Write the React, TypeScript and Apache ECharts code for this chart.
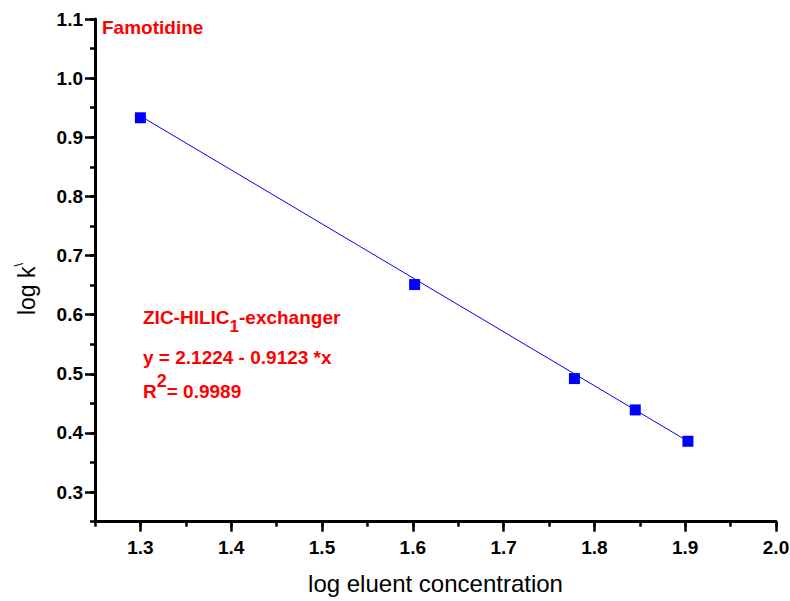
import React, { useEffect, useRef } from "react";
import * as echarts from "echarts";

// Data
const logConc = [1.3, 1.602, 1.778, 1.845, 1.903];
const logK = [0.933, 0.651, 0.492, 0.439, 0.386];
const fitX = [1.3, 1.903];
const fitY = [0.936, 0.386];

const titleText = "Famotidine";
const eqLine1 = ["ZIC-HILIC", "1", "-exchanger"];
const eqLine2 = "y = 2.1224 - 0.9123 *x";
const eqLine3 = ["R", "2", "= 0.9989"];
const xName = "log eluent concentration";
const yName = ["log k", "\\"];

const FONT = "'Liberation Sans', Arial, Helvetica, sans-serif";

export default function App() {
  const ref = useRef<HTMLDivElement>(null);
  useEffect(() => {
    document.body.style.margin = "0";
    if (!ref.current) return;
    const chart = echarts.init(ref.current, null, { renderer: "svg" });

    const gLeft = 95, gRight = 14, gTop = 19, gBottom = 79.3;
    const xUnit = (790 - gLeft - gRight) / 0.75;
    const yUnit = (601 - gTop - gBottom) / 0.85;
    const dx = 0.05 * xUnit;
    const dy = 0.05 * yUnit;

    const labelStyle = {
      color: "#000",
      fontSize: 19,
      fontWeight: "bold" as const,
      fontFamily: FONT,
    };
    const axisLineStyle = { color: "#000000", width: 3, opacity: 1 };
    const tickStyle = { color: "#000000", width: 2.5, opacity: 1 };

    const option: any = {
      animation: false,
      backgroundColor: "#fff",
      grid: [
        { left: gLeft, right: gRight, top: gTop, bottom: gBottom, containLabel: false, outerBoundsMode: "none" },
        { left: gLeft + dx, right: gRight, top: gTop, bottom: gBottom + dy, containLabel: false, outerBoundsMode: "none" },
      ],
      xAxis: [
        {
          gridIndex: 0,
          type: "value",
          min: 1.25,
          max: 2.0,
          interval: 0.05,
          axisLine: { show: true, onZero: false, lineStyle: axisLineStyle },
          axisTick: { show: true, length: 5, lineStyle: tickStyle },
          axisLabel: { show: false },
          splitLine: { show: false },
          name: xName,
          nameLocation: "middle",
          nameGap: 50,
          nameTextStyle: { color: "#000", fontSize: 24, fontFamily: FONT },
        },
        {
          gridIndex: 1,
          type: "value",
          min: 1.3,
          max: 2.0,
          interval: 0.1,
          position: "bottom",
          offset: dy,
          axisLine: { show: false, onZero: false },
          axisTick: { show: true, length: 10, lineStyle: tickStyle },
          axisLabel: { ...labelStyle, margin: 16, formatter: (v: number) => v.toFixed(1) },
          splitLine: { show: false },
        },
      ],
      yAxis: [
        {
          gridIndex: 0,
          type: "value",
          min: 0.25,
          max: 1.1,
          interval: 0.05,
          axisLine: { show: true, onZero: false, lineStyle: axisLineStyle },
          axisTick: { show: true, length: 5, lineStyle: tickStyle },
          axisLabel: { show: false },
          splitLine: { show: false },
        },
        {
          gridIndex: 1,
          type: "value",
          min: 0.3,
          max: 1.1,
          interval: 0.1,
          position: "left",
          offset: dx,
          axisLine: { show: false, onZero: false },
          axisTick: { show: true, length: 10, lineStyle: tickStyle },
          axisLabel: { ...labelStyle, margin: 12, formatter: (v: number) => v.toFixed(1) },
          splitLine: { show: false },
        },
      ],
      series: [
        {
          type: "line",
          xAxisIndex: 0,
          yAxisIndex: 0,
          data: fitX.map((x, i) => [x, fitY[i]]),
          symbol: "none",
          lineStyle: { color: "#0000ff", width: 1 },
          z: 2,
        },
        {
          type: "scatter",
          xAxisIndex: 0,
          yAxisIndex: 0,
          data: logConc.map((x, i) => [x, logK[i]]),
          symbol: "rect",
          symbolSize: 11,
          itemStyle: { color: "#0000ff", opacity: 1 },
          z: 3,
        },
      ],
      graphic: [
        {
          type: "text",
          x: 102,
          y: 27,
          style: {
            text: titleText,
            fill: "#ff0000",
            fontSize: 19,
            fontWeight: "bold",
            fontFamily: FONT,
            verticalAlign: "middle",
            align: "left",
          },
        },
        {
          type: "text",
          x: 143,
          y: 317 - 18,
          style: {
            text: `{a|${eqLine1[0]}}{s|${eqLine1[1]}}{a|${eqLine1[2]}}`,
            fill: "#ff0000",
            fontFamily: FONT,
            fontWeight: "bold",
            align: "left",
            verticalAlign: "top",
            rich: {
              a: { fill: "#ff0000", fontSize: 19, fontWeight: "bold", fontFamily: FONT, lineHeight: 36, verticalAlign: "middle" },
              s: { fill: "#ff0000", fontSize: 17, fontWeight: "bold", fontFamily: FONT, lineHeight: 15, verticalAlign: "bottom" },
            },
          },
        },
        {
          type: "text",
          x: 143,
          y: 357.5,
          style: {
            text: eqLine2,
            fill: "#ff0000",
            fontSize: 19,
            fontWeight: "bold",
            fontFamily: FONT,
            verticalAlign: "middle",
            align: "left",
          },
        },
        {
          type: "text",
          x: 143,
          y: 391.5 - 20,
          style: {
            text: `{a|${eqLine3[0]}}{s|${eqLine3[1]}}{a|${eqLine3[2]}}`,
            fill: "#ff0000",
            fontFamily: FONT,
            fontWeight: "bold",
            align: "left",
            verticalAlign: "top",
            rich: {
              a: { fill: "#ff0000", fontSize: 19, fontWeight: "bold", fontFamily: FONT, lineHeight: 40, verticalAlign: "middle" },
              s: { fill: "#ff0000", fontSize: 18, fontWeight: "bold", fontFamily: FONT, lineHeight: 17, verticalAlign: "top" },
            },
          },
        },
        {
          type: "text",
          x: 27,
          y: 289,
          rotation: Math.PI / 2,
          style: {
            text: `{a|${yName[0]}}{s|${yName[1]}}`,
            fill: "#000",
            fontFamily: FONT,
            align: "center",
            verticalAlign: "middle",
            rich: {
              a: { fill: "#000", fontSize: 23, fontFamily: FONT, lineHeight: 30, verticalAlign: "middle" },
              s: { fill: "#000", fontSize: 13, fontFamily: FONT, lineHeight: 13, verticalAlign: "top" },
            },
          },
        },
      ],
    };

    chart.setOption(option);
    return () => chart.dispose();
  }, []);

  return <div ref={ref} style={{ width: 790, height: 601 }} />;
}
